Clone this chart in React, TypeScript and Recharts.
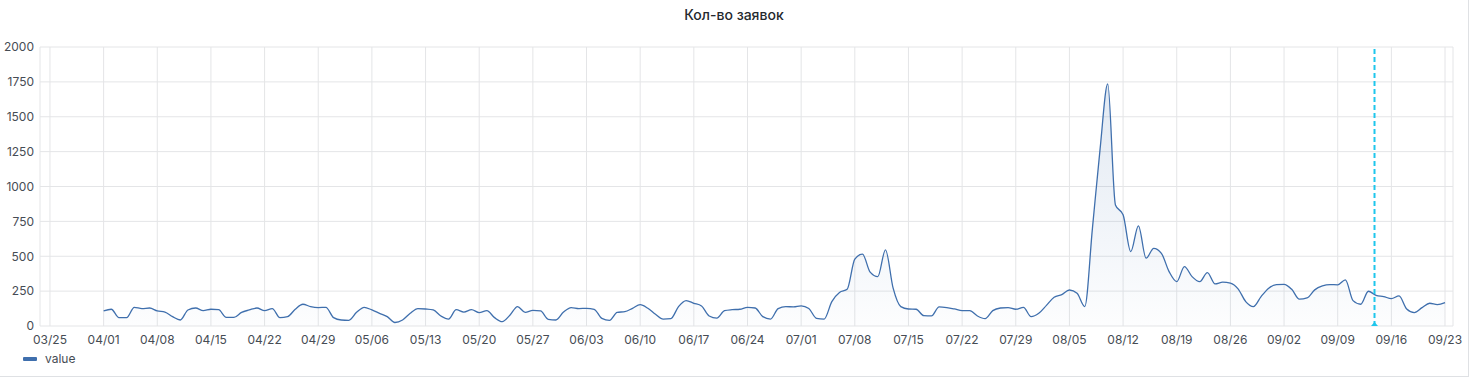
import { AreaChart, Area, XAxis, YAxis, CartesianGrid, ReferenceLine } from "recharts";

const aprilValues = [108, 120, 60, 60, 134, 125, 129, 108, 100, 67, 43, 115, 129, 110, 120, 117, 62, 62, 98, 115, 129, 110, 125, 60, 67, 120, 156, 139, 132, 134];
const mayValues = [60, 43, 41, 98, 134, 115, 91, 67, 25, 43, 91, 125, 122, 115, 72, 50, 117, 100, 117, 96, 110, 60, 31, 77, 139, 98, 112, 108, 48, 43, 100];
const juneValues = [132, 125, 127, 120, 55, 41, 98, 103, 127, 153, 127, 84, 50, 53, 139, 182, 163, 144, 72, 57, 110, 117, 120, 134, 129, 67, 50, 125, 139, 137];
const julyValues = [144, 125, 55, 50, 175, 240, 263, 479, 515, 386, 354, 546, 271, 139, 122, 120, 74, 72, 137, 132, 122, 110, 110, 72, 53, 110, 129, 132, 120, 134, 67];
const augustValues = [91, 148, 206, 225, 258, 234, 139, 700, 1270, 1735, 868, 797, 533, 718, 486, 557, 521, 390, 318, 426, 354, 318, 383, 302, 314, 307, 266, 175, 139, 211, 271];
const septemberValues = [297, 299, 263, 192, 201, 259, 287, 297, 295, 331, 182, 156, 249, 220, 211, 196, 216, 122, 96, 132, 163, 153, 168];

const months = [
  { month: 4, values: aprilValues },
  { month: 5, values: mayValues },
  { month: 6, values: juneValues },
  { month: 7, values: julyValues },
  { month: 8, values: augustValues },
  { month: 9, values: septemberValues },
];

const tickLabels = ["03/25", "04/01", "04/08", "04/15", "04/22", "04/29", "05/06", "05/13", "05/20", "05/27", "06/03", "06/10", "06/17", "06/24", "07/01", "07/08", "07/15", "07/22", "07/29", "08/05", "08/12", "08/19", "08/26", "09/02", "09/09", "09/16", "09/23"];
const yTicks = [0, 250, 500, 750, 1000, 1250, 1500, 1750, 2000];

const YEAR = 2024;
const DAY_MS = 86400000;
const start = Date.UTC(YEAR, 2, 25);

const toDay = (md: string) => {
  const [m, d] = md.split("/").map(Number);
  return Math.round((Date.UTC(YEAR, m - 1, d) - start) / DAY_MS);
};
const fmt = (day: number) => {
  const dt = new Date(start + Math.round(day) * DAY_MS);
  const mm = String(dt.getUTCMonth() + 1).padStart(2, "0");
  const dd = String(dt.getUTCDate()).padStart(2, "0");
  return `${mm}/${dd}`;
};

const data = months.flatMap(({ month, values }) =>
  values.map((value, i) => ({ day: toDay(`${month}/${i + 1}`), value }))
);
const xTicks = tickLabels.map(toDay);
// "now" marker, evening of 09/13
const markerDay = toDay("09/13") + 0.8;

const FONT = "Inter, Roboto, sans-serif";
const lineColor = "#3f6fad";
const textColor = "#464c54";

const Marker = (props: any) => {
  const { x, y, height } = props.viewBox;
  const b = y + height;
  return <polygon points={`${x - 3.5},${b} ${x + 3.5},${b} ${x},${b - 4}`} fill="#1ec6ec" />;
};

export default function App() {
  return (
    <div style={{ position: "absolute", left: 0, top: 0, width: 1468, height: 376, borderRight: "1px solid #dfe1e4", borderBottom: "1px solid #dfe1e4", fontFamily: FONT, background: "#fff" }}>
      <div style={{ position: "absolute", left: 0, width: 1468, top: 6, textAlign: "center", fontSize: 14, fontWeight: 500, color: "#24292e" }}>
        Кол-во заявок
      </div>
      <AreaChart width={1468} height={376} data={data} margin={{ top: 47, right: 15, bottom: 20, left: 0 }}>
        <defs>
          <linearGradient id="fillGrad" x1="0" y1="0" x2="0" y2="1">
            <stop offset="0%" stopColor={lineColor} stopOpacity={0.26} />
            <stop offset="100%" stopColor={lineColor} stopOpacity={0.02} />
          </linearGradient>
        </defs>
        <CartesianGrid stroke="#e4e5e7" />
        <XAxis
          type="number"
          dataKey="day"
          domain={[-1.3, 183.04]}
          allowDataOverflow
          ticks={xTicks}
          tickFormatter={fmt}
          axisLine={false}
          tickLine={false}
          tickSize={0}
          tickMargin={9}
          height={30}
          interval={0}
          tick={{ fontSize: 12, fill: textColor, fontFamily: FONT }}
        />
        <YAxis
          domain={[0, 2000]}
          ticks={yTicks}
          axisLine={false}
          tickLine={false}
          tickSize={0}
          tickMargin={6}
          width={40}
          interval={0}
          tick={{ fontSize: 12, fill: textColor, fontFamily: FONT }}
        />
        <Area
          type="monotone"
          dataKey="value"
          stroke={lineColor}
          strokeWidth={1.3}
          fill="url(#fillGrad)"
          dot={false}
          activeDot={false}
          isAnimationActive={false}
        />
        <ReferenceLine x={markerDay} stroke="#1ec6ec" strokeWidth={2} strokeDasharray="5 3" label={<Marker />} />
      </AreaChart>
      <div style={{ position: "absolute", left: 23, top: 351, display: "flex", alignItems: "center", fontSize: 12, color: textColor }}>
        <span style={{ display: "inline-block", width: 14, height: 4, background: lineColor, borderRadius: 1, marginRight: 8 }} />
        value
      </div>
    </div>
  );
}
